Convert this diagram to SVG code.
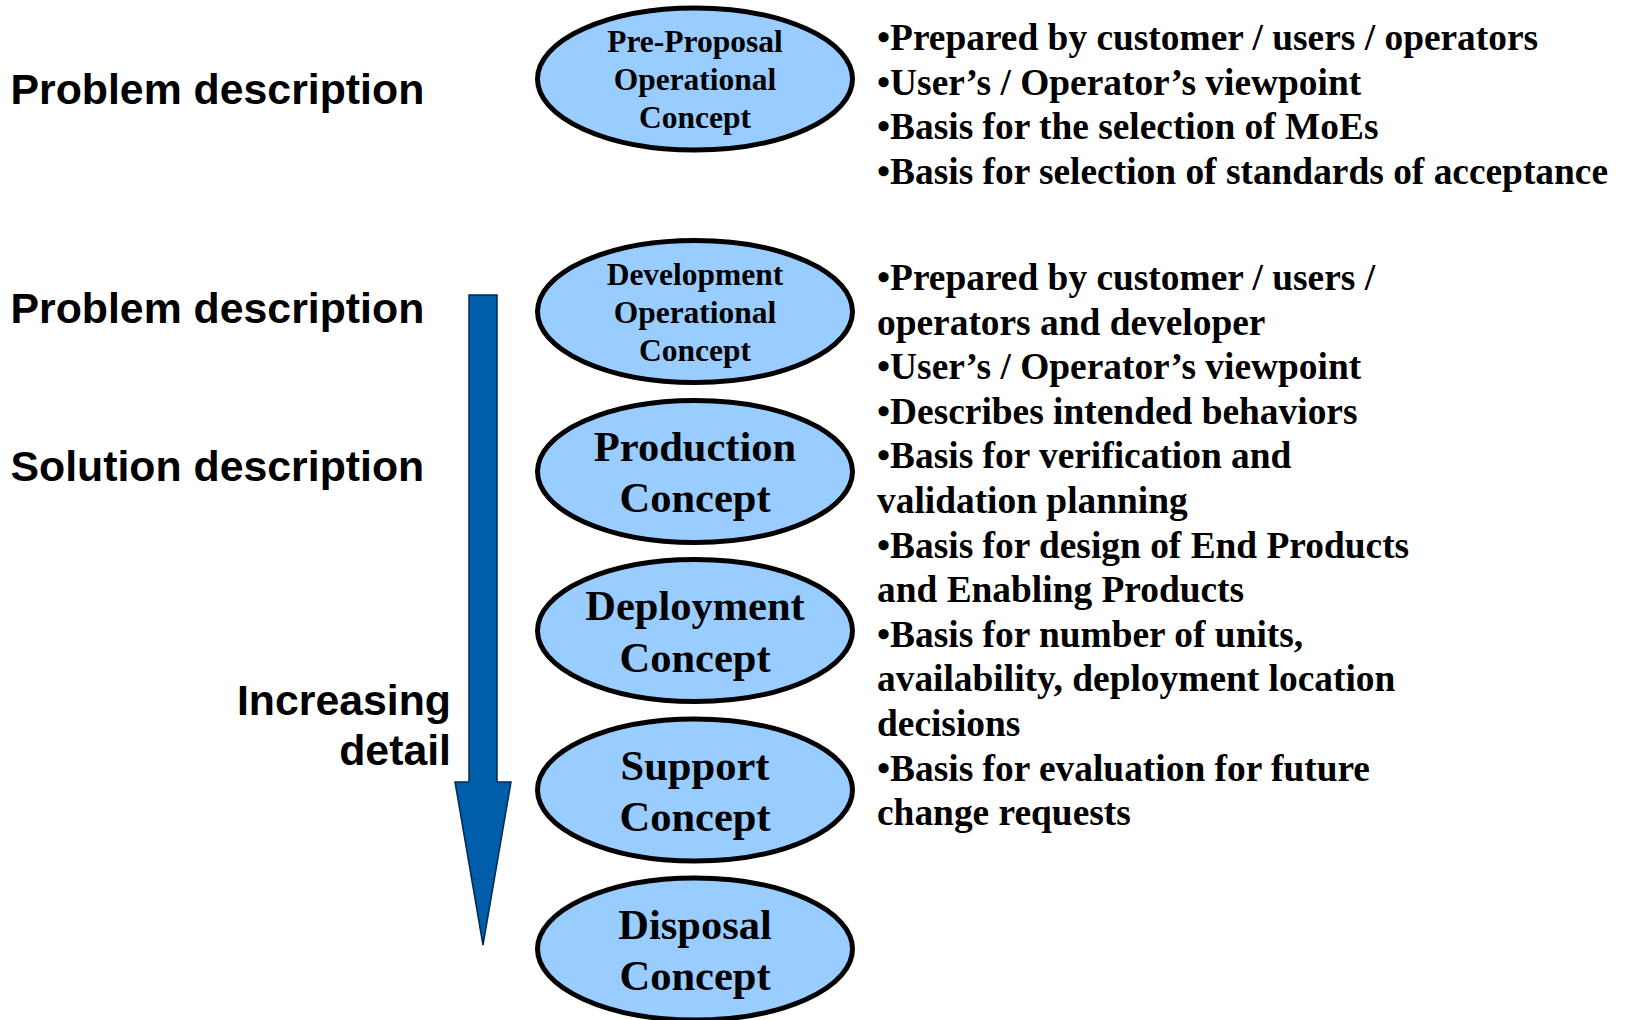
<svg xmlns="http://www.w3.org/2000/svg" width="1626" height="1020" viewBox="0 0 1626 1020">
  <style>
    .bg { fill: #ffffff; }
    .node ellipse { fill: #99CCFF; stroke: #000000; stroke-width: 5; }
    .ntxt-s { font-family: "Liberation Serif", "Times New Roman", serif; font-weight: bold; font-size: 31.5px; text-anchor: middle; fill: #000; }
    .ntxt-l { font-family: "Liberation Serif", "Times New Roman", serif; font-weight: bold; font-size: 42.5px; text-anchor: middle; fill: #000; }
    .label { font-family: "Liberation Sans", Arial, sans-serif; font-weight: bold; font-size: 42.8px; fill: #000; }
    .bullets { font-family: "Liberation Serif", "Times New Roman", serif; font-weight: bold; font-size: 37.4px; fill: #000; }
    .arrow { fill: #005DAA; stroke: #002A55; stroke-width: 1.5; }
  </style>
  <rect class="bg" x="0" y="0" width="1626" height="1020"/>

  <g id="side-labels">
    <text class="label" x="10.5" y="104">Problem description</text>
    <text class="label" x="10.5" y="323">Problem description</text>
    <text class="label" x="10.5" y="481">Solution description</text>
    <text class="label" x="451" y="715" text-anchor="end">Increasing</text>
    <text class="label" x="451" y="765" text-anchor="end">detail</text>
  </g>

  <g id="connectors">
    <polygon class="arrow" points="469,295 497,295 497,782 511,782 483,945 455,782 469,782"/>
  </g>

  <g id="node-preproposal" class="node">
    <ellipse cx="695" cy="79" rx="157.5" ry="71"/>
    <text class="ntxt-s" x="695" y="52">Pre-Proposal</text>
    <text class="ntxt-s" x="695" y="90">Operational</text>
    <text class="ntxt-s" x="695" y="128">Concept</text>
  </g>

  <g id="node-development" class="node">
    <ellipse cx="695" cy="311.5" rx="157.5" ry="71"/>
    <text class="ntxt-s" x="695" y="285">Development</text>
    <text class="ntxt-s" x="695" y="323">Operational</text>
    <text class="ntxt-s" x="695" y="361">Concept</text>
  </g>

  <g id="node-production" class="node">
    <ellipse cx="695" cy="471.5" rx="157.5" ry="71"/>
    <text class="ntxt-l" x="695" y="460.5">Production</text>
    <text class="ntxt-l" x="695" y="512">Concept</text>
  </g>

  <g id="node-deployment" class="node">
    <ellipse cx="695" cy="630.5" rx="157.5" ry="71"/>
    <text class="ntxt-l" x="695" y="620">Deployment</text>
    <text class="ntxt-l" x="695" y="671.5">Concept</text>
  </g>

  <g id="node-support" class="node">
    <ellipse cx="695" cy="790" rx="157.5" ry="71"/>
    <text class="ntxt-l" x="695" y="779.5">Support</text>
    <text class="ntxt-l" x="695" y="831">Concept</text>
  </g>

  <g id="node-disposal" class="node">
    <ellipse cx="695" cy="949" rx="157.5" ry="71"/>
    <text class="ntxt-l" x="695" y="938.5">Disposal</text>
    <text class="ntxt-l" x="695" y="990">Concept</text>
  </g>

  <g id="notes-preproposal">
    <text class="bullets">
      <tspan x="877" y="50">•Prepared by customer / users / operators</tspan>
      <tspan x="877" y="94.5">•User’s / Operator’s viewpoint</tspan>
      <tspan x="877" y="139">•Basis for the selection of MoEs</tspan>
      <tspan x="877" y="183.5">•Basis for selection of standards of acceptance</tspan>
    </text>
  </g>

  <g id="notes-development">
    <text class="bullets">
      <tspan x="877" y="290">•Prepared by customer / users /</tspan>
      <tspan x="877" y="334.6">operators and developer</tspan>
      <tspan x="877" y="379.2">•User’s / Operator’s viewpoint</tspan>
      <tspan x="877" y="423.8">•Describes intended behaviors</tspan>
      <tspan x="877" y="468.4">•Basis for verification and</tspan>
      <tspan x="877" y="513">validation planning</tspan>
      <tspan x="877" y="557.6">•Basis for design of End Products</tspan>
      <tspan x="877" y="602.2">and Enabling Products</tspan>
      <tspan x="877" y="646.8">•Basis for number of units,</tspan>
      <tspan x="877" y="691.4">availability, deployment location</tspan>
      <tspan x="877" y="736">decisions</tspan>
      <tspan x="877" y="780.6">•Basis for evaluation for future</tspan>
      <tspan x="877" y="825.2">change requests</tspan>
    </text>
  </g>
</svg>
